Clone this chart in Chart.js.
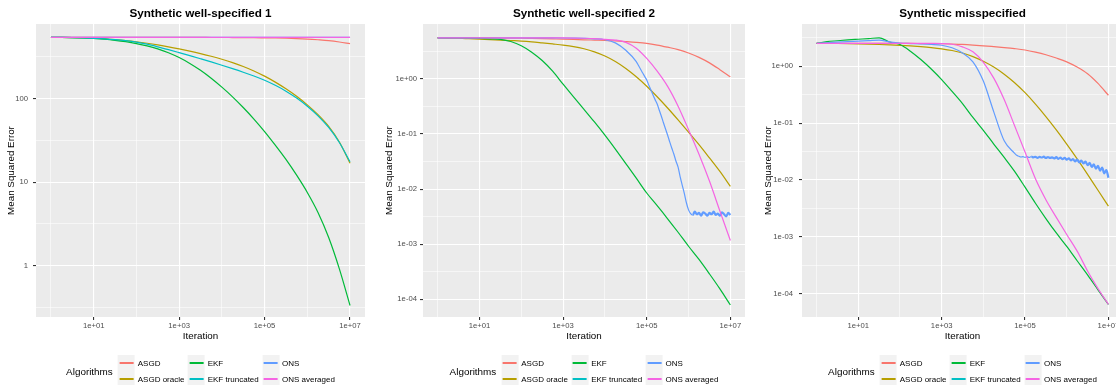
<!DOCTYPE html>
<html><head><meta charset="utf-8">
<script src="https://cdn.jsdelivr.net/npm/chart.js@4.4.0/dist/chart.umd.min.js"></script>
<style>
html,body{margin:0;padding:0;background:#fff;width:1116px;height:385px;overflow:hidden;position:relative;font-family:"Liberation Sans",Arial,Helvetica,sans-serif;}
canvas{position:absolute;top:0;}
.ptitle{position:absolute;top:6px;font-weight:bold;font-size:11.7px;line-height:14px;transform:translateX(-50%);white-space:nowrap;color:#000;}
.legend{position:absolute;top:355px;display:flex;align-items:center;transform:translateX(-50%);white-space:nowrap;}
.ltitle{font-size:9.9px;margin-right:5.3px;color:#000;}
.lgrid{display:grid;grid-template-rows:16px 16px;grid-auto-flow:column;column-gap:3.5px;}
.item{display:flex;align-items:center;height:16px;font-size:8px;color:#000;}
.key{width:17px;height:16px;background:#F2F2F2;position:relative;margin-right:2.7px;}
.key span{position:absolute;left:1.5px;right:1.5px;top:7.4px;height:1.2px;}
</style></head><body>
<script>
// ---------- names, colours, labels ----------
const ALGORITHMS = ['ASGD','ASGD oracle','EKF','EKF truncated','ONS','ONS averaged'];
const COLORS = ['#F8766D','#B79F00','#00BA38','#00BFC4','#619CFF','#F564E3'];
const PANEL_TITLES = ['Synthetic well-specified 1','Synthetic well-specified 2','Synthetic misspecified'];
const X_TITLE = 'Iteration';
const Y_TITLE = 'Mean Squared Error';
const LEGEND_TITLE = 'Algorithms';

const X_MAJOR_VALUES = [10, 1000, 100000, 10000000];
const X_MAJOR_LABELS = ['1e+01','1e+03','1e+05','1e+07'];
const X_MINOR_VALUES = [1, 100, 10000, 1000000];

const P1_Y_MAJOR_VALUES = [1, 10, 100];
const P1_Y_MAJOR_LABELS = ['1','10','100'];
const P1_Y_MINOR_VALUES = [0.3162, 3.162, 31.62, 316.2];

const P23_Y_MAJOR_VALUES = [0.0001, 0.001, 0.01, 0.1, 1];
const P23_Y_MAJOR_LABELS = ['1e-04','1e-03','1e-02','1e-01','1e+00'];
const P23_Y_MINOR_VALUES = [0.0003162, 0.003162, 0.03162, 0.3162, 3.162];

// ---------- iteration grids ----------
const ITER_Q = [1, 1.778, 3.162, 5.623, 10, 17.78, 31.62, 56.23, 100, 177.8, 316.2, 562.3, 1000, 1778, 3162, 5623,
  10000, 17783, 31623, 56234, 100000, 177828, 316228, 562341, 1000000, 1778279, 3162278, 5623413, 10000000];
const ITER_TAIL = [63096, 70795, 79433, 89125, 100000, 112202, 125893, 141254, 158489, 177828, 199526, 223872, 251189,
  281838, 316228, 354813, 398107, 446684, 501187, 562341, 630957, 707946, 794328, 891251, 1000000, 1122018, 1258925,
  1412538, 1584893, 1778279, 1995262, 2238721, 2511886, 2818383, 3162278, 3548134, 3981072, 4466836, 5011872,
  5623413, 6309573, 7079458, 7943282, 8912509, 10000000];

// ---------- Panel 1: Synthetic well-specified 1 (on ITER_Q) ----------
const P1_ASGD        = [541,541,541,541,541,541,541,541,541,541,541,541,541,540,540,539,539,538,537,536,534,532,528,523,516,506,494,476,454];
const P1_ASGD_ORACLE = [540.8,539.5,537,533.1,527,518.5,507.9,494.6,478.4,459.5,438.8,416.8,393.5,369.7,345.6,321.1,295.9,269.8,242.6,214.4,185.6,157.5,131,106.5,84.1,64.2,46.5,30.2,16.8];
const P1_EKF         = [540.8,539.5,537,532.1,524.8,514,498.9,479.7,456,427.6,393.6,354,309.7,263.6,218.3,175.4,137.1,105,78.2,56.9,40.3,27.7,18.7,12.1,7.52,4.33,2.17,0.914,0.333];
const P1_EKF_TRUNC   = [540.8,539.5,537,533.1,527,518.5,507.9,494,474.8,448.3,416.9,385.2,354.7,326.2,299.5,274.6,251,228.5,206.9,186.1,165.5,144.1,122.7,101.5,81.1,62.2,45.1,29.8,17.5];
const P1_ONS         = [542.5,542.5,542.5,542.5,542.5,542.5,542.5,542.5,542.5,542.5,542.5,542.5,542.5,542.5,542.5,542.5,542.5,542.5,542.5,542.5,542.5,542.5,542.5,542.5,542.5,542.5,542.5,542.5,542.5];
const P1_ONS_AVG     = [539.5,539.5,539.5,539.5,539.5,539.5,539.5,539.5,539.5,539.5,539.5,539.5,539.5,539.5,539.5,539.5,539.5,539.5,539.5,539.5,539.5,539.5,539.5,539.5,539.5,539.5,539.5,539.5,539.5];

// ---------- Panel 2: Synthetic well-specified 2 (on ITER_Q unless noted) ----------
const P2_ASGD = [5.56,5.56,5.56,5.56,5.55,5.53,5.5,5.48,5.45,5.4,5.35,5.3,5.25,5.18,5.1,5.05,5.0,4.88,4.75,4.6,4.4,4.1,3.75,3.4,2.95,2.45,1.95,1.47,1.09];
const P2_ASGD_ORACLE = [5.56,5.5,5.45,5.35,5.25,5.15,5.05,4.95,4.85,4.7,4.5,4.3,4.1,3.85,3.51,3.08,2.59,2.06,1.54,1.09,0.735,0.474,0.296,0.18,0.108,0.064,0.0368,0.0209,0.0112];
const P2_EKF = [5.56,5.55,5.52,5.48,5.42,5.33,5.2,4.75,4.0,3.05,2.15,1.38,0.8,0.47,0.28,0.165,0.095,0.053,0.029,0.0158,0.0085,0.005,0.0029,0.00165,0.00092,0.00053,0.00029,0.000155,0.000079];
const P2_ONS_HEAD = [5.56,5.56,5.56,5.56,5.56,5.56,5.56,5.56,5.55,5.55,5.54,5.53,5.51,5.48,5.43,5.33,5.12,4.5,3.3,2.05]; // ITER_Q first 20
const P2_ONS_TAIL = [1.76,1.51,1.29,1.11,0.95,0.77,0.63,0.51,0.42,0.35,0.27,0.21,0.16,0.123,0.095,0.072,0.055,0.043,0.032,0.025,0.0166,0.0117,0.0083,0.0056,0.0042,0.0036,
  0.0034,0.0039,0.0035,0.0037,0.0033,0.0038,0.0036,0.0033,0.0037,0.0035,0.0039,0.0034,0.0036,0.0033,0.0038,0.0035,0.0032,0.0037,0.0034]; // ITER_TAIL
const P2_ONS_AVG = [5.56,5.56,5.56,5.56,5.56,5.56,5.56,5.56,5.56,5.55,5.55,5.54,5.53,5.5,5.45,5.35,5.2,5.05,4.6,3.6,2.35,1.38,0.73,0.32,0.12,0.043,0.014,0.004,0.00117];

// ---------- Panel 3: Synthetic misspecified (on ITER_Q unless noted) ----------
const P3_ASGD = [2.54,2.54,2.54,2.54,2.54,2.54,2.54,2.54,2.53,2.53,2.52,2.51,2.5,2.47,2.43,2.37,2.3,2.22,2.14,2.05,1.94,1.78,1.6,1.4,1.2,0.97,0.74,0.5,0.31];
const P3_ASGD_ORACLE = [2.541,2.535,2.523,2.506,2.483,2.455,2.421,2.382,2.339,2.286,2.218,2.138,2.037,1.901,1.714,1.486,1.23,0.971,0.728,0.515,0.344,0.217,0.131,0.0762,0.0429,0.0236,0.0126,0.0066,0.00347];
const P3_EKF = [2.54,2.72,2.82,2.92,3.0,3.08,3.18,2.68,2.42,1.85,1.32,0.9,0.585,0.362,0.221,0.126,0.075,0.043,0.025,0.0142,0.0075,0.0039,0.0021,0.00117,0.00068,0.00038,0.000214,0.000117,0.0000645];
const P3_ONS_HEAD = [2.54,2.6,2.66,2.72,2.78,2.84,2.9,2.7,2.56,2.52,2.48,2.43,2.35,2.12,1.72,1.2,0.55,0.158,0.049,0.0295]; // ITER_Q first 20
const P3_ONS_TAIL = [0.0272,0.0262,0.0254,0.0258,0.0251,0.0257,
  0.0249,0.0258,0.0250,0.0256,0.0246,0.0255,0.0249,0.0257,0.0244,
  0.0254,0.0245,0.0250,0.0239,0.0252,0.0236,0.0247,0.0233,0.0246,0.0228,
  0.0240,0.0222,0.0234,0.0212,0.0229,0.0204,0.0219,0.0196,0.0210,0.0182,
  0.0200,0.0170,0.0189,0.0158,0.0178,0.0146,0.0166,0.0131,0.0150,0.0110]; // ITER_TAIL
const P3_ONS_AVG = [2.54,2.54,2.54,2.54,2.54,2.54,2.54,2.54,2.54,2.54,2.54,2.53,2.52,2.45,2.2,1.8,1.18,0.62,0.26,0.09,0.031,0.0105,0.0045,0.0022,0.0011,0.00056,0.000251,0.000123,0.000065];

const EMPTY = [];

// ---------- drawing ----------
const FONT = '"Liberation Sans", Arial, Helvetica, sans-serif';
const X_MIN = 0.4467, X_MAX = 22387211;

const bgPlugin = {
  id: 'panelBg',
  beforeDraw(chart) {
    const a = chart.chartArea, c = chart.ctx;
    c.save(); c.fillStyle = '#EBEBEB';
    c.fillRect(a.left, a.top, a.right - a.left, a.bottom - a.top);
    c.restore();
  }
};

function gridOpts(majorSet) {
  const isMaj = ctx => ctx.tick && majorSet.has(ctx.tick.value);
  return {
    drawTicks: true, tickLength: 3,
    color: '#FFFFFF',
    lineWidth: ctx => isMaj(ctx) ? 1.1 : 0.55,
    tickColor: ctx => isMaj(ctx) ? '#333333' : 'rgba(0,0,0,0)',
    tickWidth: ctx => isMaj(ctx) ? 1.1 : 1
  };
}

function makePanel(p) {
  const canvas = document.createElement('canvas');
  canvas.width = p.canvasWidth; canvas.height = 385;
  canvas.style.left = p.canvasLeft + 'px';
  canvas.style.width = p.canvasWidth + 'px'; canvas.style.height = '385px';
  document.body.appendChild(canvas);

  const xMajorSet = new Set(X_MAJOR_VALUES);
  const yMajorSet = new Set(p.yMajor);
  const xTicks = X_MAJOR_VALUES.concat(X_MINOR_VALUES).sort((a, b) => a - b);
  const yTicks = p.yMajor.concat(p.yMinor).sort((a, b) => a - b);
  const xLab = new Map(X_MAJOR_VALUES.map((v, i) => [v, X_MAJOR_LABELS[i]]));
  const yLab = new Map(p.yMajor.map((v, i) => [v, p.yLabels[i]]));

  const datasets = p.series.map((s, i) => {
    const ds = {
      label: ALGORITHMS[i],
      data: s.iter.map((x, j) => ({ x: x, y: s.mse[j] })),
      borderColor: COLORS[i], backgroundColor: COLORS[i],
      borderWidth: 1.2, pointRadius: 0, fill: false,
      cubicInterpolationMode: 'monotone',
      order: ALGORITHMS.length - i
    };
    if (s.bandFrom) ds.segment = { borderWidth: c => (c.p0.parsed.x >= s.bandFrom ? 2.2 : 1.2) };
    return ds;
  });

  new Chart(canvas, {
    type: 'line',
    data: { datasets: datasets },
    plugins: [bgPlugin],
    options: {
      responsive: false, animation: false, devicePixelRatio: 1, events: [],
      layout: { padding: { top: 24, right: 5, bottom: 42, left: 0 } },
      plugins: { legend: { display: false }, title: { display: false }, tooltip: { enabled: false } },
      scales: {
        x: {
          type: 'logarithmic', position: 'bottom', min: X_MIN, max: X_MAX,
          afterBuildTicks: sc => { sc.ticks = xTicks.map(v => ({ value: v })); },
          afterFit: sc => { sc.height = 26; },
          ticks: { autoSkip: false, maxRotation: 0, minRotation: 0, padding: 1, color: '#4D4D4D',
            font: { family: FONT, size: 7.7 }, major: { enabled: false },
            callback: v => xLab.has(v) ? xLab.get(v) : '' },
          grid: gridOpts(xMajorSet), border: { display: false },
          title: { display: true, text: X_TITLE, color: '#000', font: { family: FONT, size: 9.8 }, padding: { top: 0, bottom: 1 } }
        },
        y: {
          type: 'logarithmic', position: 'left', min: p.yMin, max: p.yMax,
          afterBuildTicks: sc => { sc.ticks = yTicks.map(v => ({ value: v })); },
          afterFit: sc => { sc.width = p.yAxisWidth; },
          ticks: { autoSkip: false, padding: p.yLabelPad, color: '#4D4D4D',
            font: { family: FONT, size: 7.7 }, major: { enabled: false },
            callback: v => yLab.has(v) ? yLab.get(v) : '' },
          grid: gridOpts(yMajorSet), border: { display: false },
          title: { display: true, text: Y_TITLE, color: '#000', font: { family: FONT, size: 9.8 }, padding: { top: 5.2, bottom: 0 } }
        }
      }
    }
  });

  const t = document.createElement('div');
  t.className = 'ptitle'; t.textContent = p.title; t.style.left = p.center + 'px';
  document.body.appendChild(t);

  const lg = document.createElement('div');
  lg.className = 'legend'; lg.style.left = p.center + 'px';
  const lt = document.createElement('div'); lt.className = 'ltitle'; lt.textContent = LEGEND_TITLE;
  const grid = document.createElement('div'); grid.className = 'lgrid';
  ALGORITHMS.forEach((name, i) => {
    const it = document.createElement('div'); it.className = 'item';
    const k = document.createElement('div'); k.className = 'key';
    const ln = document.createElement('span'); ln.style.background = COLORS[i];
    k.appendChild(ln);
    const tx = document.createElement('span'); tx.textContent = name;
    it.appendChild(k); it.appendChild(tx); grid.appendChild(it);
  });
  lg.appendChild(lt); lg.appendChild(grid);
  document.body.appendChild(lg);
}

const P2_ONS_ITER = ITER_Q.slice(0, 20).concat(ITER_TAIL);
const P3_ONS_ITER = ITER_Q.slice(0, 20).concat(ITER_TAIL);

makePanel({
  title: PANEL_TITLES[0], canvasLeft: 0, canvasWidth: 370, yAxisWidth: 36, yLabelPad: 5, center: 200.5,
  yMin: 0.2427, yMax: 781.6, yMajor: P1_Y_MAJOR_VALUES, yLabels: P1_Y_MAJOR_LABELS, yMinor: P1_Y_MINOR_VALUES,
  series: [
    { iter: ITER_Q, mse: P1_ASGD },
    { iter: ITER_Q, mse: P1_ASGD_ORACLE },
    { iter: ITER_Q, mse: P1_EKF },
    { iter: ITER_Q, mse: P1_EKF_TRUNC },
    { iter: ITER_Q, mse: P1_ONS },
    { iter: ITER_Q, mse: P1_ONS_AVG }
  ]
});

makePanel({
  title: PANEL_TITLES[1], canvasLeft: 378, canvasWidth: 372, yAxisWidth: 45, yLabelPad: 3, center: 584,
  yMin: 0.0000479, yMax: 9.886, yMajor: P23_Y_MAJOR_VALUES, yLabels: P23_Y_MAJOR_LABELS, yMinor: P23_Y_MINOR_VALUES,
  series: [
    { iter: ITER_Q, mse: P2_ASGD },
    { iter: ITER_Q, mse: P2_ASGD_ORACLE },
    { iter: ITER_Q, mse: P2_EKF },
    { iter: EMPTY, mse: EMPTY },
    { iter: P2_ONS_ITER, mse: P2_ONS_HEAD.concat(P2_ONS_TAIL), bandFrom: 1200000 },
    { iter: ITER_Q, mse: P2_ONS_AVG }
  ]
});

makePanel({
  title: PANEL_TITLES[2], canvasLeft: 757, canvasWidth: 371, yAxisWidth: 45, yLabelPad: 6, center: 962.5,
  yMin: 0.0000389, yMax: 5.559, yMajor: P23_Y_MAJOR_VALUES, yLabels: P23_Y_MAJOR_LABELS, yMinor: P23_Y_MINOR_VALUES,
  series: [
    { iter: ITER_Q, mse: P3_ASGD },
    { iter: ITER_Q, mse: P3_ASGD_ORACLE },
    { iter: ITER_Q, mse: P3_EKF },
    { iter: EMPTY, mse: EMPTY },
    { iter: P3_ONS_ITER, mse: P3_ONS_HEAD.concat(P3_ONS_TAIL), bandFrom: 130000 },
    { iter: ITER_Q, mse: P3_ONS_AVG }
  ]
});
</script>
</body></html>
